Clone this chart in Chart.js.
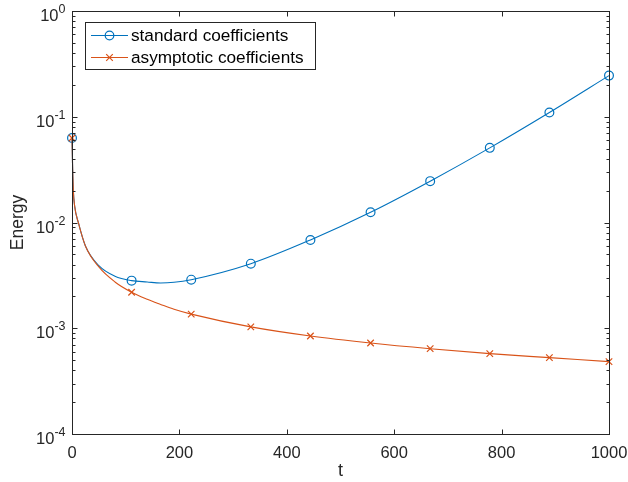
<!DOCTYPE html>
<html>
<head>
<meta charset="utf-8">
<script src="https://cdn.jsdelivr.net/npm/chart.js@4.4.1/dist/chart.umd.min.js"></script>
<style>
  html, body { margin: 0; padding: 0; background: #fff; }
  #grafik { display: block; }
</style>
</head>
<body>
<canvas id="grafik" width="628" height="482"></canvas>
<script>
// nilai
const waktu = [0, 1, 2.5, 5, 12, 25, 50, 80, 111, 140, 165, 190, 222, 333, 444, 556, 667, 778, 889, 1000];
const energiStandar = [0.063, 0.036, 0.020, 0.0142, 0.0099, 0.006, 0.0039, 0.0031, 0.00282, 0.00274, 0.00268, 0.00272, 0.00288, 0.00408, 0.00684, 0.0125, 0.0246, 0.0508, 0.1097, 0.245];
const energiAsimtotik = [0.063, 0.036, 0.020, 0.0142, 0.0099, 0.006, 0.0038, 0.00274, 0.00219, 0.00188, 0.00168, 0.00151, 0.00136, 0.00103, 0.000845, 0.000726, 0.000641, 0.000575, 0.000527, 0.000483];
const waktuPenanda = [0, 111, 222, 333, 444, 556, 667, 778, 889, 1000];
const labelSeri = ["standard coefficients", "asymptotic coefficients"];
const tickX = [0, 200, 400, 600, 800, 1000];
const tickY = [1e-4, 1e-3, 1e-2, 1e-1, 1];
const eksponenY = ["-4", "-3", "-2", "-1", "0"];

const BIRU = "#0072BD";
const JINGGA = "#D95319";
const WARNA_SUMBU = "#262626";
const FONT = "'Liberation Sans', Arial, Helvetica, sans-serif";

function titik(ys) {
    return waktu.map((t, i) => ({ x: t, y: ys[i] }));
}

function radiusPenanda(r) {
    return function (ctx) {
        let p = ctx.raw;
        return p && waktuPenanda.includes(p.x) ? r : 0;
    };
}

function gambarPenanda(ctx, jenis, x, y, warna) {
    ctx.save();
    ctx.strokeStyle = warna;
    ctx.lineWidth = 1.2;
    ctx.beginPath();
    if (jenis === "circle") {
        ctx.arc(x, y, 4.3, 0, Math.PI * 2);
    } else {
        ctx.moveTo(x - 3.3, y - 3.3); ctx.lineTo(x + 3.3, y + 3.3);
        ctx.moveTo(x + 3.3, y - 3.3); ctx.lineTo(x - 3.3, y + 3.3);
    }
    ctx.stroke();
    ctx.restore();
}

const dekorasi = {
    id: "dekorasi",
    afterDraw(chart) {
        let ctx = chart.ctx;
        let a = chart.chartArea;
        let sx = chart.scales.x, sy = chart.scales.y;
        let L = Math.round(a.left) + 0.5, R = Math.round(a.right) + 0.5;
        let T = Math.round(a.top) + 0.5, B = Math.round(a.bottom) + 0.5;
        ctx.save();
        ctx.strokeStyle = WARNA_SUMBU;
        ctx.lineWidth = 1;
        ctx.strokeRect(L, T, R - L, B - T);
        ctx.beginPath();
        tickX.forEach(v => {
            let px = Math.round(sx.getPixelForValue(v)) + 0.5;
            ctx.moveTo(px, B); ctx.lineTo(px, B - 5);
            ctx.moveTo(px, T); ctx.lineTo(px, T + 5);
        });
        tickY.forEach(v => {
            let py = Math.round(sy.getPixelForValue(v)) + 0.5;
            ctx.moveTo(L, py); ctx.lineTo(L + 5, py);
            ctx.moveTo(R, py); ctx.lineTo(R - 5, py);
        });
        for (let d = -4; d < 0; d++) {
            for (let k = 2; k <= 9; k++) {
                let py = Math.round(sy.getPixelForValue(k * Math.pow(10, d))) + 0.5;
                ctx.moveTo(L, py); ctx.lineTo(L + 3, py);
                ctx.moveTo(R, py); ctx.lineTo(R - 3, py);
            }
        }
        ctx.stroke();

        // label sumbu y: 10 pangkat
        ctx.fillStyle = WARNA_SUMBU;
        ctx.textBaseline = "alphabetic";
        tickY.forEach((v, i) => {
            let py = sy.getPixelForValue(v);
            let ujung = L - 7;
            ctx.font = "12.5px " + FONT;
            ctx.textAlign = "right";
            let lebarSup = ctx.measureText(eksponenY[i]).width;
            ctx.fillText(eksponenY[i], ujung, py + 2);
            ctx.font = "16.5px " + FONT;
            ctx.fillText("10", ujung - lebarSup, py + 10);
        });

        // legenda
        let lx = 85.5, ly = 22.5, lw = 230, lh = 47;
        ctx.fillStyle = "#fff";
        ctx.fillRect(lx, ly, lw, lh);
        ctx.strokeStyle = WARNA_SUMBU;
        ctx.strokeRect(lx, ly, lw, lh);
        let baris = [
            { y: 35.5, warna: BIRU, jenis: "circle" },
            { y: 57.5, warna: JINGGA, jenis: "cross" }
        ];
        baris.forEach((b, i) => {
            ctx.strokeStyle = b.warna;
            ctx.lineWidth = 1.1;
            ctx.beginPath();
            ctx.moveTo(91, b.y); ctx.lineTo(128, b.y);
            ctx.stroke();
            gambarPenanda(ctx, b.jenis, 109.5, b.y, b.warna);
            ctx.fillStyle = "#000";
            ctx.font = "17.2px " + FONT;
            ctx.textAlign = "left";
            ctx.textBaseline = "middle";
            ctx.fillText(labelSeri[i], 131, b.y + 0.5);
        });
        ctx.restore();
    }
};

function buatGrafik() {
    let ctx = document.getElementById("grafik").getContext("2d");
    new Chart(ctx, {
        type: "line",
        data: {
            datasets: [{
                label: labelSeri[0],
                data: titik(energiStandar),
                borderColor: BIRU,
                borderWidth: 1.1,
                pointStyle: "circle",
                pointRadius: radiusPenanda(4.4),
                pointBorderWidth: 1.2,
                pointBorderColor: BIRU,
                pointBackgroundColor: "rgba(0,0,0,0)",
                cubicInterpolationMode: "monotone",
                fill: false,
                clip: false,
                order: 2
            }, {
                label: labelSeri[1],
                data: titik(energiAsimtotik),
                borderColor: JINGGA,
                borderWidth: 1.1,
                pointStyle: "cross",
                rotation: 45,
                pointRadius: radiusPenanda(4.6),
                pointBorderWidth: 1.2,
                pointBorderColor: JINGGA,
                cubicInterpolationMode: "monotone",
                fill: false,
                clip: false,
                order: 1
            }]
        },
        options: {
            responsive: false,
            animation: false,
            devicePixelRatio: 1,
            layout: { padding: { top: 11, right: 19, left: 0, bottom: 0 } },
            plugins: { legend: { display: false }, tooltip: { enabled: false } },
            scales: {
                x: {
                    type: "linear",
                    min: 0,
                    max: 1000,
                    grid: { display: false, drawTicks: false },
                    border: { display: false },
                    ticks: {
                        stepSize: 200,
                        padding: 10,
                        maxRotation: 0,
                        color: WARNA_SUMBU,
                        font: { family: FONT, size: 16.5 },
                        callback: v => String(v)
                    },
                    title: {
                        display: true,
                        text: "t",
                        color: WARNA_SUMBU,
                        font: { family: FONT, size: 18 },
                        padding: { top: 0, bottom: 0 }
                    },
                    afterFit(s) {
                        s.height = 48;
                        s.paddingLeft = 0;
                        s.paddingRight = 0;
                    }
                },
                y: {
                    type: "logarithmic",
                    min: 1e-4,
                    max: 1,
                    grid: { display: false, drawTicks: false },
                    border: { display: false },
                    ticks: { display: false },
                    title: {
                        display: true,
                        text: "Energy",
                        color: WARNA_SUMBU,
                        font: { family: FONT, size: 17.5 },
                        padding: { top: 8, bottom: 0 }
                    },
                    afterFit(s) { s.width = 72; }
                }
            }
        },
        plugins: [dekorasi]
    });
}

buatGrafik();
</script>
</body>
</html>
